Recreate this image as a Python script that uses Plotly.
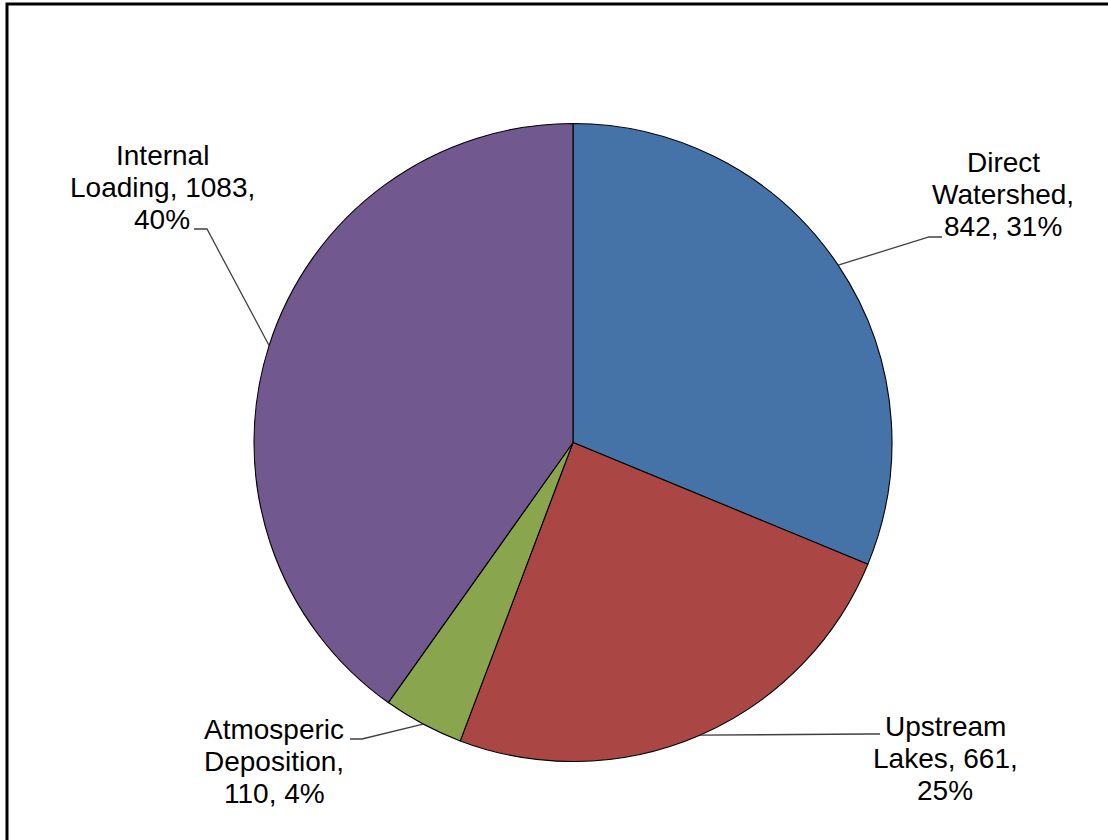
import math
import plotly.graph_objects as go

# ---- data ----
categories = ["Direct Watershed", "Upstream Lakes", "Atmosperic Deposition", "Internal Loading"]
values = [842, 661, 110, 1083]
colors = ["#4572A7", "#AA4643", "#89A54E", "#71588F"]

# ---- layout constants (pixels) ----
W, H = 1108, 840
CX, CY, R = 573.0, 442.5, 319.0
FONT = "Liberation Sans, Arial, sans-serif"
FSIZE = 28
LINE_GAP = 32
# words per line for each label
label_breaks = [[1, 1, 2], [1, 2, 1], [1, 1, 2], [1, 2, 1]]
# label block: centre x, first baseline y
label_pos = [(1003, 173), (945, 737), (274, 740), (162, 166)]
# leader elbow and end points
leader_pts = [[(929, 237), (942, 237)],
              [(868, 734), (880, 734)],
              [(362, 739), (350, 739)],
              [(207, 229), (194, 229)]]

def px(x):
    return x / W

def py(y):
    return 1 - y / H

total = sum(values)
pcts = [round(100 * v / total) for v in values]

fig = go.Figure(go.Pie(
    labels=categories, values=values, sort=False, direction="clockwise", rotation=0,
    marker=dict(colors=colors, line=dict(color="#000000", width=1.1)),
    textinfo="none", hoverinfo="label+value+percent", showlegend=False,
    domain=dict(x=[px(CX - R), px(CX + R)], y=[py(CY + R), py(CY - R)]),
))

annotations = []
shapes = []
cum = 0
for i, (cat, v, p) in enumerate(zip(categories, values, pcts)):
    mid = (cum + v / 2) / total
    cum += v
    ang = 2 * math.pi * mid
    sx, sy = CX + R * math.sin(ang), CY - R * math.cos(ang)
    pts = [(sx, sy)] + leader_pts[i]
    path = "M " + " L ".join(f"{px(x)},{py(y)}" for x, y in pts)
    shapes.append(dict(type="path", xref="paper", yref="paper", path=path,
                       line=dict(color="#404040", width=1.3)))
    tokens = f"{cat}, {v}, {p}%".split(" ")
    lines, k = [], 0
    for n in label_breaks[i]:
        lines.append(" ".join(tokens[k:k + n]))
        k += n
    lx, ly = label_pos[i]
    for j, line in enumerate(lines):
        base = ly + j * LINE_GAP
        annotations.append(dict(text=line, x=px(lx), y=py(base - 0.36 * FSIZE),
                                xref="paper", yref="paper", xanchor="center", yanchor="middle",
                                showarrow=False, font=dict(family=FONT, size=FSIZE, color="#000000")))

# outer frame
shapes.append(dict(type="rect", xref="paper", yref="paper", x0=px(7), y0=-0.05, x1=1.05, y1=py(4),
                   line=dict(color="#000000", width=3)))

fig.update_layout(width=W, height=H, margin=dict(l=0, r=0, t=0, b=0),
                  paper_bgcolor="white", plot_bgcolor="white",
                  annotations=annotations, shapes=shapes)
fig.write_html("out.html")
